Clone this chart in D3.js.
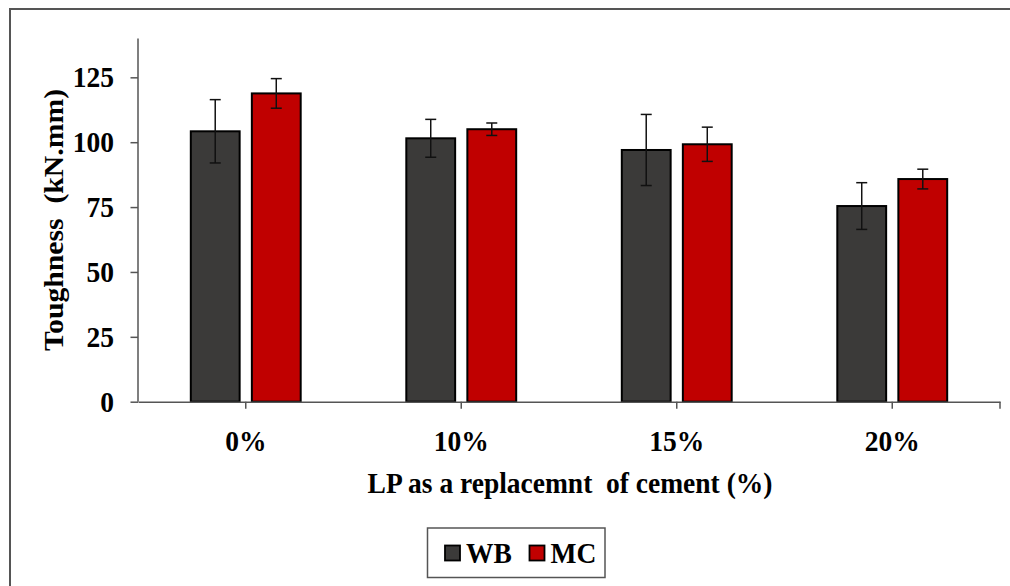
<!DOCTYPE html>
<html>
<head>
<meta charset="utf-8">
<script src="https://cdn.jsdelivr.net/npm/d3@7"></script>
<style>
  html, body { margin: 0; padding: 0; background: #fff; }
  svg { display: block; }
  text { font-family: "Liberation Serif", "Times New Roman", serif; font-weight: bold; fill: #000; }
</style>
</head>
<body>
<svg id="chart" width="1010" height="586"></svg>
<script>
// Toughness per LP replacement level, two curing regimes
const categories = ["0%", "10%", "15%", "20%"];
const seriesNames = ["WB", "MC"];
const wbValues = [104.2, 101.5, 97.0, 75.4];
const wbErrors = [12.2, 7.3, 13.7, 9.0];
const mcValues = [118.8, 105.0, 99.2, 85.8];
const mcErrors = [5.7, 2.4, 6.6, 3.8];
const yTicks = [0, 25, 50, 75, 100, 125];

const colors = { WB: "#3b3a39", MC: "#c00000" };
const fontSize = 27.5;
const stretch = 1.08; // glyphs are drawn slightly taller than wide

const svg = d3.select("#chart");

// outer frame (open on the right and bottom edges of the canvas)
svg.append("rect")
  .attr("x", 10).attr("y", 9)
  .attr("width", 1020).attr("height", 600)
  .attr("fill", "none").attr("stroke", "#555").attr("stroke-width", 2);

const plot = { left: 138, right: 1000, top: 38.4, bottom: 401.7 };

const y = d3.scaleLinear().domain([0, 140]).range([plot.bottom, plot.top]);
const x = d3.scaleBand().domain(categories).range([plot.left, plot.right]).padding(0);
const xs = d3.scaleBand().domain(seriesNames).range([0, x.bandwidth()])
  .paddingInner(0.2).paddingOuter(0.865);

const rows = categories.map((c, i) => ({
  cat: c,
  bars: [
    { key: "WB", value: wbValues[i], err: wbErrors[i] },
    { key: "MC", value: mcValues[i], err: mcErrors[i] }
  ]
}));

// helper: text with vertical stretch around its anchor point
function label(parent, tx, ty, str, anchor, rotate) {
  const g = parent.append("g")
    .attr("transform", `translate(${tx},${ty}) scale(1,${stretch})` + (rotate ? ` rotate(${rotate})` : ""));
  g.append("text")
    .attr("text-anchor", anchor)
    .attr("dy", "0.34em")
    .style("font-size", fontSize + "px")
    .text(str);
  return g;
}

// bars
const groups = svg.append("g").selectAll("g.cat")
  .data(rows).join("g")
  .attr("class", "cat")
  .attr("transform", d => `translate(${x(d.cat)},0)`);

groups.selectAll("rect")
  .data(d => d.bars).join("rect")
  .attr("x", d => xs(d.key))
  .attr("y", d => y(d.value))
  .attr("width", xs.bandwidth())
  .attr("height", d => y(0) - y(d.value))
  .attr("fill", d => colors[d.key])
  .attr("stroke", "#000")
  .attr("stroke-width", 2);

// error bars
const capHalf = 5.5;
const eb = groups.selectAll("g.err")
  .data(d => d.bars).join("g")
  .attr("class", "err")
  .attr("stroke", "#111")
  .attr("stroke-width", 1.5);
eb.append("line")
  .attr("x1", d => xs(d.key) + xs.bandwidth() / 2)
  .attr("x2", d => xs(d.key) + xs.bandwidth() / 2)
  .attr("y1", d => y(d.value + d.err))
  .attr("y2", d => y(d.value - d.err));
eb.append("line")
  .attr("x1", d => xs(d.key) + xs.bandwidth() / 2 - capHalf)
  .attr("x2", d => xs(d.key) + xs.bandwidth() / 2 + capHalf)
  .attr("y1", d => y(d.value + d.err))
  .attr("y2", d => y(d.value + d.err));
eb.append("line")
  .attr("x1", d => xs(d.key) + xs.bandwidth() / 2 - capHalf)
  .attr("x2", d => xs(d.key) + xs.bandwidth() / 2 + capHalf)
  .attr("y1", d => y(d.value - d.err))
  .attr("y2", d => y(d.value - d.err));

// y axis
const yAxis = svg.append("g")
  .attr("transform", `translate(${plot.left},0)`)
  .call(d3.axisLeft(y).tickValues(yTicks).tickSize(7.5).tickFormat(""));
yAxis.select(".domain").attr("d", `M0,${plot.top}V${plot.bottom}`);
yAxis.selectAll("path, line").attr("stroke", "#555").attr("stroke-width", 1.5);
yTicks.forEach(t => label(svg, 114, y(t), String(t), "end"));

// x axis
const xAxis = svg.append("g")
  .attr("transform", `translate(0,${plot.bottom})`)
  .call(d3.axisBottom(x).tickSize(7).tickSizeOuter(0).tickFormat(""));
xAxis.append("line").attr("x1", plot.right).attr("x2", plot.right).attr("y1", 0).attr("y2", 7);
xAxis.selectAll("path, line").attr("stroke", "#555").attr("stroke-width", 1.5);
categories.forEach(c => label(svg, x(c) + x.bandwidth() / 2, 440.5, c, "middle"));

// axis titles
label(svg, 570, 483, "LP as a replacemnt  of cement (%)", "middle").select("text").style("white-space", "pre");
label(svg, 54, 220, "Toughness  (kN.mm)", "middle", -90).select("text").style("white-space", "pre");

// legend
const legend = svg.append("g");
legend.append("rect")
  .attr("x", 427.5).attr("y", 528)
  .attr("width", 177.5).attr("height", 49.5)
  .attr("fill", "#fff").attr("stroke", "#555").attr("stroke-width", 1.5);
const legendX = { WB: 445, MC: 529.5 };
seriesNames.forEach(k => {
  legend.append("rect")
    .attr("x", legendX[k]).attr("y", 545.5)
    .attr("width", 15).attr("height", 15)
    .attr("fill", colors[k]).attr("stroke", "#000").attr("stroke-width", 1.8);
  label(legend, legendX[k] + 21, 552.5, k, "start");
});
</script>
</body>
</html>
